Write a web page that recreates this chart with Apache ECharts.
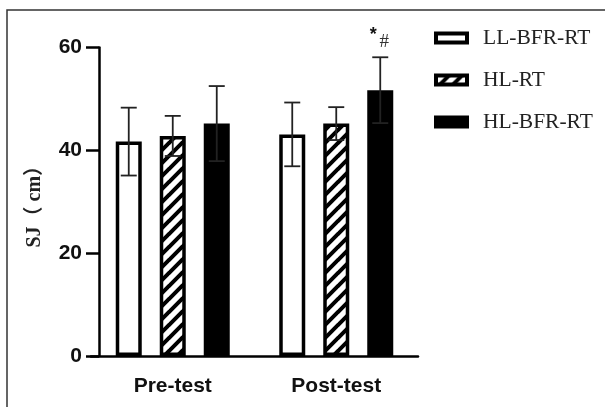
<!DOCTYPE html>
<html>
<head>
<meta charset="utf-8">
<script src="https://cdn.jsdelivr.net/npm/echarts@6/dist/echarts.min.js"></script>
<style>
  html, body { margin: 0; padding: 0; background: #fff; }
  #chart { width: 605px; height: 407px; }
</style>
</head>
<body>
<div id="chart"></div>
<script>
// data (mean and SD per group)
const categories = ['Pre-test', 'Post-test'];
const groups = ['LL-BFR-RT', 'HL-RT', 'HL-BFR-RT'];
const llBfrMean = [41.7, 43.1];
const llBfrSd = [6.6, 6.2];
const hlMean = [42.8, 45.2];
const hlSd = [3.9, 3.2];
const hlBfrMean = [45.2, 51.7];
const hlBfrSd = [7.3, 6.4];
const hlBfrNotes = ['', '*#'];
const yTicks = [0, 20, 40, 60];

// diagonal hatch for HL-RT
function makeHatch() {
  const s = 13;
  const c = document.createElement('canvas');
  c.width = s;
  c.height = s;
  const g = c.getContext('2d');
  g.fillStyle = '#fff';
  g.fillRect(0, 0, s, s);
  g.strokeStyle = '#000';
  g.lineWidth = 4;
  g.beginPath();
  for (let k = -1; k <= 2; k++) {
    g.moveTo(-1, k * s + 1);
    g.lineTo(s + 1, k * s - s - 1);
  }
  g.stroke();
  return { image: c, repeat: 'repeat' };
}
const hatch = makeHatch();

const BAR_W = 26;
const STEP = 44;

function barSeries(name, values, fill) {
  return {
    type: 'bar',
    name: name,
    data: values,
    barWidth: BAR_W,
    barGap: ((STEP - BAR_W) / BAR_W * 100) + '%',
    itemStyle: { color: fill, borderColor: '#000', borderWidth: 3.5 },
    emphasis: { disabled: true },
  };
}

function errorSeries(means, sds, dx, notes) {
  return {
    type: 'custom',
    name: 'err',
    z: 5,
    silent: true,
    data: means.map((m, i) => [i, m, sds[i]]),
    renderItem: (params, api) => {
      const i = api.value(0);
      const m = api.value(1);
      const sd = api.value(2);
      const hi = api.coord([i, m + sd]);
      const lo = api.coord([i, m - sd]);
      const x = hi[0] + dx;
      const cap = 8;
      const style = { stroke: '#222', lineWidth: 1.8 };
      const children = [
        { type: 'line', shape: { x1: x, y1: hi[1], x2: x, y2: lo[1] }, style },
        { type: 'line', shape: { x1: x - cap, y1: hi[1], x2: x + cap, y2: hi[1] }, style },
        { type: 'line', shape: { x1: x - cap, y1: lo[1], x2: x + cap, y2: lo[1] }, style },
      ];
      const note = notes ? notes[params.dataIndex] : '';
      if (note) {
        children.push({
          type: 'text', x: x - 7, y: hi[1] - 22,
          style: { text: note[0], fontSize: 18, fontWeight: 'bold', fill: '#111',
                   fontFamily: 'Liberation Sans', align: 'center', verticalAlign: 'middle' },
        });
        children.push({
          type: 'text', x: x + 4, y: hi[1] - 15,
          style: { text: note[1], fontSize: 19, fill: '#333',
                   fontFamily: 'Liberation Serif', align: 'center', verticalAlign: 'middle' },
        });
      }
      return { type: 'group', children };
    },
  };
}

const chart = echarts.init(document.getElementById('chart'), null, { renderer: 'canvas' });

const legendStyles = [
  { color: '#fff' },
  { color: hatch },
  { color: '#000' },
];

chart.setOption({
  animation: false,
  backgroundColor: '#fff',
  grid: { left: 91, right: 187, top: 47.5, bottom: 51 },
  legend: {
    orient: 'vertical',
    left: 429,
    top: 22,
    itemWidth: 31,
    itemHeight: 9,
    itemGap: 20,
    selectedMode: false,
    data: groups.map((g, i) => ({
      name: g,
      icon: 'rect',
      itemStyle: { color: legendStyles[i].color, borderColor: '#000', borderWidth: 4 },
    })),
    textStyle: { fontFamily: 'Liberation Serif', fontSize: 21.5, color: '#222', padding: [0, 0, 0, 11] },
  },
  xAxis: {
    type: 'category',
    data: categories,
    axisLine: { lineStyle: { color: '#000', width: 2.5 } },
    axisTick: { alignWithLabel: true, length: 12, lineStyle: { color: '#000', width: 2.5 } },
    axisLabel: { color: '#111', fontSize: 21, fontWeight: 'bold', fontFamily: 'Liberation Sans', margin: 20 },
  },
  yAxis: {
    type: 'value',
    min: yTicks[0],
    max: yTicks[yTicks.length - 1],
    interval: yTicks[1] - yTicks[0],
    offset: -8,
    axisLine: { show: true, lineStyle: { color: '#000', width: 2.5 } },
    axisTick: { show: true, length: 13, lineStyle: { color: '#000', width: 2.5 } },
    splitLine: { show: false },
    axisLabel: { color: '#111', fontSize: 21, fontWeight: 'bold', fontFamily: 'Liberation Sans', margin: 17 },
    name: 'SJ（ cm）',
    nameLocation: 'middle',
    nameGap: 54,
    nameTextStyle: { fontFamily: 'Liberation Serif, Noto Sans CJK SC', fontSize: 20, fontWeight: 'bold', color: '#222' },
  },
  graphic: [
    {
      type: 'rect', silent: true,
      shape: { x: 7, y: 10, width: 800, height: 600 },
      style: { fill: 'none', stroke: '#333', lineWidth: 1.5 },
    },
  ],
  series: [
    barSeries(groups[0], llBfrMean, '#fff'),
    barSeries(groups[1], hlMean, hatch),
    barSeries(groups[2], hlBfrMean, '#000'),
    errorSeries(llBfrMean, llBfrSd, -STEP, null),
    errorSeries(hlMean, hlSd, 0, null),
    errorSeries(hlBfrMean, hlBfrSd, STEP, hlBfrNotes),
  ],
});
</script>
</body>
</html>
